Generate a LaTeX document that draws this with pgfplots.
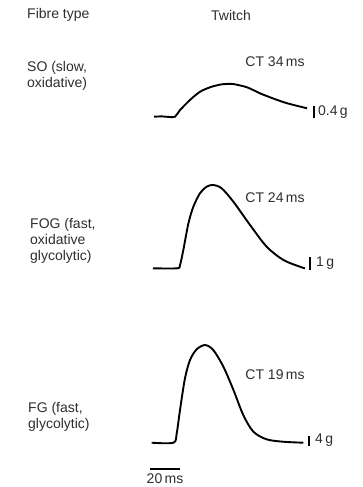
\documentclass[border=0pt]{standalone}
\usepackage{pgfplots}
\pgfplotsset{compat=1.18}
\usepackage{fontspec}
\setmainfont{Liberation Sans}
\definecolor{txt}{HTML}{2E2E2E}
\pgfplotsset{trace/.style={hide axis, anchor=origin, x=1.5pt, xmin=0, xmax=110, clip=false}}
\begin{document}
\begin{tikzpicture}[font=\fontsize{14pt}{16pt}\selectfont, every node/.style={text=txt, inner sep=0pt}]
\path (0,0) rectangle (362pt,-487pt);
% headings
\node[anchor=west] at (27pt,-15pt) {Fibre type};
\node at (231pt,-15pt) {Twitch};
% SO
\begin{axis}[trace, at={(150pt,-116.7pt)}, y=30pt, ymin=-0.1, ymax=1.2]
\addplot[black, line width=1.9pt, smooth] coordinates {
(2.7,0) (8,0.01) (13,-0.01) (16.7,0) (20,0.22) (26.7,0.56) (33.3,0.83) (40,0.98)
(46.7,1.07) (51,1.09) (55.3,1.09) (64.7,0.98) (73.3,0.78) (82,0.61) (91.3,0.45) (104.7,0.28)};
\addplot[black, line width=1.5pt] coordinates {(109.3,0.357) (109.3,-0.043)};
\end{axis}
\node[anchor=west, align=left] at (27pt,-76pt) {SO (slow,\\oxidative)};
\node at (275pt,-62pt) {CT 34\,ms};
\node[anchor=west] at (318pt,-112pt) {0.4\,g};
% FOG
\begin{axis}[trace, at={(150pt,-268.3pt)}, y=13pt, ymin=-0.2, ymax=6.6]
\addplot[black, line width=1.9pt, smooth] coordinates {
(2,0) (18,0) (20,0.25) (22.2,1.4) (25.6,3.46) (28.9,4.74) (33.3,5.77) (37.8,6.28)
(42.2,6.41) (47.8,6.15) (55.6,5.12) (66.7,3.33) (77.8,1.66) (88.9,0.64) (100,0.12) (103.3,0)};
\addplot[black, line width=1.5pt] coordinates {(106.7,0.87) (106.7,-0.13)};
\end{axis}
\node[anchor=west, align=left] at (30pt,-241pt) {FOG (fast,\\oxidative\\glycolytic)};
\node at (275pt,-198pt) {CT 24\,ms};
\node[anchor=west] at (316pt,-263pt) {1\,g};
% FG
\begin{axis}[trace, at={(150pt,-442.7pt)}, y=2.4pt, ymin=-12, ymax=42]
\addplot[black, line width=1.9pt, smooth] coordinates {
(1.1,0) (15.6,0) (17.8,3.9) (20,13.6) (23.3,26.8) (26.7,34.5) (31.1,38.9) (36.7,40.7)
(42.2,38.6) (48.9,31.7) (55.6,22) (62.2,11.5) (68.9,4.6) (77.8,1.4) (88.9,0.4) (102.2,0)};
\addplot[black, line width=1.5pt] coordinates {(106,2.8) (106,-1.2)};
\addplot[black, line width=1.2pt] coordinates {(0,-10.96) (20,-10.96)};
\end{axis}
\node[anchor=west, align=left] at (28pt,-417pt) {FG (fast,\\glycolytic)};
\node at (275pt,-375pt) {CT 19\,ms};
\node[anchor=west] at (315pt,-440pt) {4\,g};
\node at (165pt,-479pt) {20\,ms};
\end{tikzpicture}
\end{document}
